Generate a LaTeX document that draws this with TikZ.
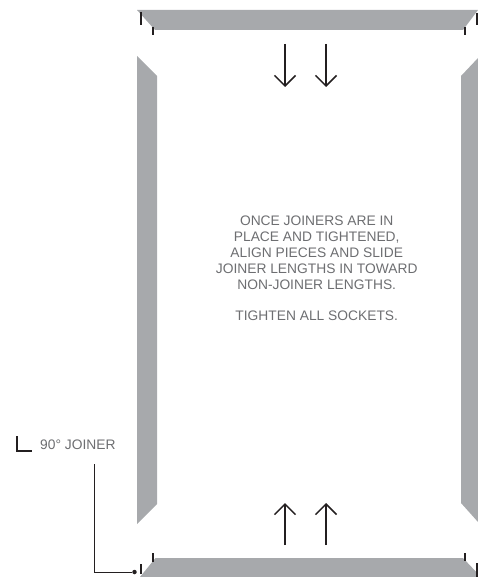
\documentclass[tikz,border=0pt]{standalone}
\usepackage{fontspec}
\setmainfont{Liberation Sans}
\usetikzlibrary{arrows.meta}
\definecolor{barcolor}{HTML}{A7A9AC}
\definecolor{textcolor}{HTML}{6D6E71}
\definecolor{inkcolor}{HTML}{231F20}
\tikzset{
	bar/.style={fill=barcolor, draw=none},
	tick/.style={inkcolor, line width=1.3pt},
	push/.style={inkcolor, line width=1.5pt, -{Straight Barb[length=10.5pt, width=21pt, line width=1.5pt]}},
	caption/.style={textcolor, font=\fontsize{13.8}{15.8}\selectfont, inner sep=0pt}
}

\begin{document}
\begin{tikzpicture}[x=1pt, y=-1pt]
	\useasboundingbox (0,0) rectangle (478,577);

	\fill[bar] (137,10) -- (478,10) -- (463,30) -- (155,30) -- cycle;
	\fill[bar] (155.5,558) -- (463,558) -- (481,577) -- (140,577) -- cycle;
	\fill[bar] (137,56) -- (157,76) -- (157,504) -- (137,524) -- cycle;
	\fill[bar] (478,58) -- (461,76) -- (461,503) -- (478,522) -- cycle;

	\foreach \x/\ya/\yb in {141/12/25, 153/27/35, 465/27/35, 477/13/25, 153/553/562, 141/564/574, 465/553/561, 477/563/577}
		\draw[tick] (\x,\ya) -- (\x,\yb);

	\foreach \x in {285,326} {
		\draw[push] (\x,44) -- (\x,87);
		\draw[push] (\x,545) -- (\x,503);
	}

	\node[caption, align=center] (note) at (316.7,268.5) {ONCE JOINERS ARE IN\\PLACE AND TIGHTENED,\\ALIGN PIECES AND SLIDE\\JOINER LENGTHS IN TOWARD\\NON-JOINER LENGTHS.\\[15.8pt]TIGHTEN ALL SOCKETS.};

	% joiner callout
	\draw[inkcolor, line width=2pt] (16.5,436) -- (16.5,451) -- (32,451);
	\node[caption, anchor=west] (joinerlabel) at (40,445) {90° JOINER};
	\coordinate (leadertop) at (94,464);
	\node[circle, fill=inkcolor, inner sep=0pt, minimum size=4.5pt] (joinerdot) at (134.5,572) {};
	\draw[inkcolor, line width=1pt] (leadertop) |- (joinerdot);
\end{tikzpicture}
\end{document}
